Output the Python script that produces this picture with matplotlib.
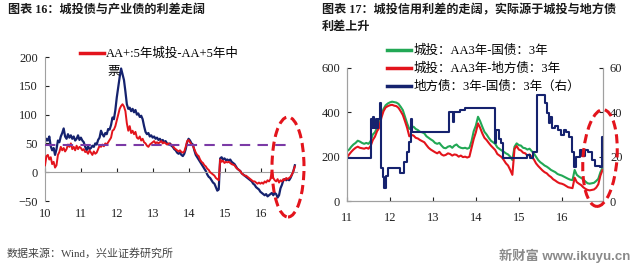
import matplotlib
matplotlib.use("Agg")
import matplotlib.pyplot as plt
import numpy as np
from matplotlib.patches import Ellipse
from matplotlib.transforms import IdentityTransform

plt.rcParams['font.family'] = ['Liberation Serif', 'Noto Sans CJK SC']

# ---- chart 16: weekly spreads, 2010 .. end of 2016 (bp)
left_blue = [
    52, 58, 55, 62, 45, 38, 42, 30, 40, 55,
    52, 62, 68, 76, 62, 58, 66, 60, 64, 58,
    62, 55, 58, 64, 56, 60, 55, 52, 44, 38,
    45, 40, 42, 46, 44, 50, 48, 56, 60, 72,
    66, 62, 68, 66, 75, 74, 82, 95, 92, 108,
    130, 148, 165, 180, 170, 160, 140, 118, 110, 112,
    106, 110, 104, 108, 100, 102, 96, 98, 92, 80,
    70, 66, 68, 62, 64, 60, 62, 58, 60, 56,
    58, 54, 56, 52, 54, 50, 48, 50, 46, 44,
    40, 38, 34, 32, 34, 30, 28, 32, 40, 52,
    58, 55, 50, 48, 38, 30, 26, 22, 18, 14,
    10, 6, 2, -4, -8, -10, -14, -18, -20, -26,
    -32, -30, 24, 26, 22, 24, 21, 22, 20, 22,
    18, 16, 14, 10, 6, 4, 2, -2, -4, -6,
    -8, -10, -12, -14, -16, -20, -22, -26, -28, -30,
    -34, -36, -38, -40, -38, -42, -40, -38, -36, -40,
    -36, -38, -44, -40, -28, -22, -14, -12, -14, -12,
    -14, -10, -4, 2, 12,
]
left_red = [
    12, 28, 30, 22, 26, 14, 18, 8, 12, 30,
    35, 44, 38, 42, 36, 40, 48, 44, 50, 40,
    44, 38, 46, 40, 44, 42, 38, 40, 35, 36,
    32, 38, 34, 30, 36, 32, 34, 40, 46, 44,
    48, 45, 50, 48, 52, 56, 60, 72, 74, 80,
    90, 100, 110, 115, 118, 114, 106, 85, 72, 80,
    68, 72, 66, 70, 60, 58, 62, 55, 58, 52,
    50, 46, 44, 48, 50, 52, 54, 50, 52, 50,
    52, 54, 50, 52, 50, 48, 50, 48, 48, 46,
    42, 40, 38, 36, 38, 35, 34, 36, 44, 54,
    56, 52, 48, 46, 40, 34, 30, 28, 22, 18,
    16, 12, 10, 6, 4, 0, -2, -4, -6, -10,
    -12, -14, 22, 18, 20, 16, 18, 17, 18, 16,
    14, 13, 12, 8, 6, 4, 2, -2, -4, -6,
    -6, -8, -10, -12, -14, -16, -16, -18, -20, -18,
    -20, -18, -20, -16, -18, -14, -16, -12, 2, -10,
    -14, -16, -12, -18, -14, -16, -12, -14, -10, -12,
    -10, -8, -4, 2, 10,
]
left_label = "AA+:5年城投-AA+5年中"
left_label_wrap = "票"
left_ticks = [10, 11, 12, 13, 14, 15, 16]
ref_level = 48

# ---- chart 17: spreads 2011 .. end of 2016
right_green = [
    225, 232, 245, 255, 262, 272, 268, 262, 258, 262,
    258, 270, 300, 310, 330, 345, 390, 415, 432, 440,
    445, 448, 446, 444, 438, 425, 410, 380, 350, 325,
    330, 335, 325, 320, 312, 310, 305, 292, 285, 278,
    272, 262, 258, 262, 250, 240, 238, 245, 248, 240,
    250, 255, 245, 240, 238, 240, 236, 240, 270, 315,
    340, 380, 360, 335, 312, 300, 285, 272, 265, 258,
    242, 235, 228, 222, 215, 210, 200, 185, 245, 260,
    252, 250, 240, 238, 232, 236, 225, 215, 200, 185,
    175, 168, 160, 155, 148, 140, 135, 130, 122, 118,
    115, 110, 105, 100, 96, 94, 140, 118, 110, 104,
    98, 88, 80, 78, 80, 82, 90, 100, 130, 150,
]
right_red = [
    198, 210, 222, 232, 240, 245, 240, 238, 236, 240,
    236, 248, 275, 290, 315, 330, 375, 405, 422, 428,
    432, 434, 430, 428, 420, 405, 388, 360, 330, 292,
    298, 295, 285, 282, 275, 270, 265, 252, 240, 232,
    226, 220, 215, 222, 210, 205, 208, 215, 212, 205,
    210, 208, 200, 205, 198, 200, 196, 200, 240, 280,
    310, 350, 330, 305, 285, 275, 262, 250, 240, 230,
    212, 205, 198, 185, 170, 160, 140, 118, 235, 248,
    232, 228, 218, 215, 205, 210, 198, 188, 170, 158,
    148, 138, 130, 125, 115, 108, 98, 92, 85, 80,
    78, 74, 68, 62, 60, 58, 105, 85, 78, 72,
    62, 55, 50, 48, 50, 52, 60, 75, 115, 140,
]
# local gov bond - treasury, changes in steps (right axis)
right_blue_t = [
    11.00, 11.55, 11.58, 11.61, 11.64, 11.67, 11.70, 11.73, 11.77, 11.80,
    11.84, 11.87, 11.90, 11.95, 12.23, 12.33, 12.40, 12.45, 12.49, 12.52,
    13.38, 13.46, 13.50, 13.62, 13.75, 14.45, 14.48, 14.53, 14.58, 14.63,
    15.20, 15.27, 15.34, 15.43, 15.60, 15.66, 15.70, 15.73, 15.78, 15.84,
    15.92, 15.98, 16.05, 16.11, 16.18, 16.24, 16.28, 16.33, 16.42, 16.48,
    16.55, 16.62, 16.70, 16.78, 16.88, 16.93, 16.96,
]
right_blue = [
    19.3, 37, 33, 38, 33, 37, 33, 37, 44, 15,
    11, 6, 11.5, 14.7, 12.5, 17.7, 22, 26.7, 37, 31,
    40, 35.5, 40, 41, 41.8, 26, 32, 28, 26, 19.3,
    20.7, 19.5, 22, 47.8, 44, 39.5, 35, 38, 33, 34,
    32, 30, 32, 31, 29, 22, 15.5, 20, 23, 20.5,
    23, 22, 18.5, 16, 15.5, 29, 29,
]
right_labels = ["城投：AA3年-国债：3年", "城投：AA3年-地方债：3年", "地方债：3年-国债：3年（右）"]
right_ticks = [11, 12, 13, 14, 15, 16]

NAVY = "#15226e"
RED = "#e3141c"
GREEN = "#22a855"
GRAY = "#a0a0a0"


def style_ticks(ax):
    ax.tick_params(labelsize=9, colors="#222222", direction="in", length=3)
    for s in ax.spines.values():
        s.set_color(GRAY)


def chart16(fig):
    ax = fig.add_axes([45 / 640, 69 / 270, 252 / 640, 144 / 270])
    t = np.linspace(10, 16.94, len(left_blue))
    ax.plot(t, left_blue, color=NAVY, lw=1.6, zorder=2)
    ax.plot(t, left_red, color=RED, lw=1.4, label=left_label, zorder=3)
    ax.hlines(ref_level, 10, 16.8, color="#7b3aa6", lw=1.5, linestyles=(0, (5, 3.5)), zorder=4)
    ax.set_xlim(10, 17)
    ax.set_ylim(-50, 200)
    ax.set_yticks([-50, 0, 50, 100, 150, 200])
    ax.set_xticks(left_ticks)
    style_ticks(ax)
    ax.spines["top"].set_visible(False)
    ax.spines["right"].set_visible(False)
    ax.spines["bottom"].set_position(("data", 0))
    ax.tick_params(axis="x", pad=26)
    ax.tick_params(axis="y", pad=5)
    h, l = ax.get_legend_handles_labels()
    leg = fig.legend(h, l, loc="upper left", bbox_to_anchor=(80 / 640, 1 - 48 / 270),
                     frameon=False, fontsize=9, handlelength=1.9, handletextpad=0.2,
                     borderpad=0, borderaxespad=0)
    for line in leg.get_lines():
        line.set_linewidth(2.5)
    fig.text(107 / 640, 1 - 72 / 270, left_label_wrap, fontsize=9, va="center")
    fig.add_artist(Ellipse((288, 270 - 167), 32, 100, transform=IdentityTransform(),
                           fill=False, ec=RED, lw=2.2, ls=(0, (3, 1.6))))


def chart17(fig):
    ax = fig.add_axes([347 / 640, 69 / 270, 256 / 640, 133 / 270])
    ax2 = ax.twinx()
    t = np.linspace(11, 16.95, len(right_green))
    l1, = ax.plot(t, right_green, color=GREEN, lw=1.5)
    l2, = ax.plot(t, right_red, color=RED, lw=1.5)
    l3, = ax2.plot(right_blue_t, right_blue, color=NAVY, lw=1.5, drawstyle="steps-post")
    ax.set_xlim(11, 16.96)
    ax.set_ylim(0, 600)
    ax2.set_ylim(0, 60)
    ax.set_yticks([0, 200, 400, 600])
    ax2.set_yticks([0, 20, 40, 60])
    ax.set_xticks(right_ticks)
    for a in (ax, ax2):
        style_ticks(a)
        a.spines["top"].set_visible(False)
    ax.tick_params(axis="x", pad=8)
    ax.tick_params(axis="y", pad=5)
    ax2.tick_params(axis="y", pad=5)
    leg = fig.legend([l1, l2, l3], right_labels, loc="upper left",
                     bbox_to_anchor=(387 / 640, 1 - 45 / 270), frameon=False,
                     fontsize=9, handlelength=1.9, handletextpad=0.2,
                     labelspacing=0.45, borderpad=0, borderaxespad=0)
    for line in leg.get_lines():
        line.set_linewidth(2.5)
    fig.add_artist(Ellipse((600, 270 - 158), 34, 97, angle=-4, transform=IdentityTransform(),
                           fill=False, ec=RED, lw=2.2, ls=(0, (3, 1.6))))


def main():
    fig = plt.figure(figsize=(6.4, 2.7), dpi=100)
    fig.text(8 / 640, 1 - 10 / 270, "图表 16：城投债与产业债的利差走阔",
             fontsize=8.7, weight="bold", va="center", color="#1a1a1a")
    fig.text(322 / 640, 1 - 10 / 270, "图表 17：城投信用利差的走阔，实际源于城投与地方债",
             fontsize=8.7, weight="bold", va="center", color="#1a1a1a")
    fig.text(322 / 640, 1 - 27 / 270, "利差上升",
             fontsize=8.7, weight="bold", va="center", color="#1a1a1a")
    chart16(fig)
    chart17(fig)
    fig.text(7 / 640, 1 - 253 / 270, "数据来源：Wind，兴业证券研究所",
             fontsize=7.9, va="center", color="#444444")
    fig.text(630 / 640, 1 - 256 / 270, "新财富 www.ikuyu.cn", ha="right", va="center",
             fontsize=9.5, weight="bold", color="#8a8a8a",
             family=["Liberation Sans", "Noto Sans CJK SC"])
    plt.savefig("out.png", dpi=100)


if __name__ == '__main__':
    main()
